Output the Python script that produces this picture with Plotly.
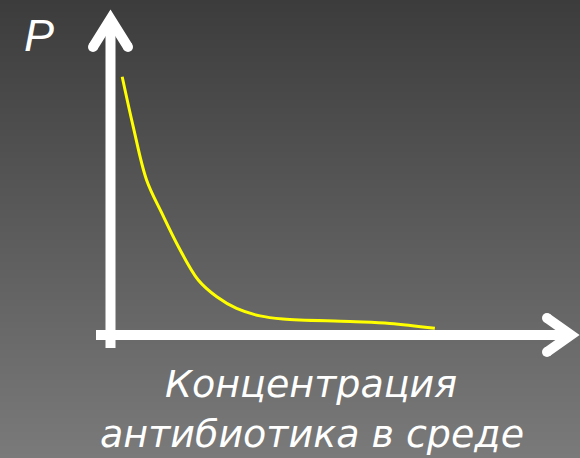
import plotly.graph_objects as go

# Dose-response sketch: probability P versus antibiotic concentration
concentration = [0.36, 0.70, 1.11, 1.58, 2.09, 2.70, 3.27, 3.88, 4.60, 5.31, 7.37, 8.60, 9.98]
probability = [10.01, 8.07, 6.01, 4.72, 3.42, 2.13, 1.48, 1.03, 0.74, 0.62, 0.52, 0.45, 0.26]

y_label = "P"
x_label_lines = ["Концентрация", "антибиотика в среде"]

W, H = 580, 458

# Data-to-pixel mapping of the plotting area (x=0 sits on the vertical axis,
# y=0 on the horizontal axis)
X0_PX, X_SCALE = 110.5, 32.5
Y0_PX, Y_SCALE = 335.0, 25.8
x_range = [(0 - X0_PX) / X_SCALE, (W - X0_PX) / X_SCALE]
y_range = [(Y0_PX - H) / Y_SCALE, Y0_PX / Y_SCALE]


def fx(px):
    return px / W


def fy(py):
    return 1 - py / H


shapes = []

# Vertical grey gradient backdrop
top_c, bot_c = 60, 122
band = 2
for i in range(0, H, band):
    t = (i + band / 2) / H
    c = round(top_c + (bot_c - top_c) * t)
    shapes.append(dict(type="rect", xref="paper", yref="paper",
                       x0=0, x1=1, y0=fy(i + band + 0.5), y1=fy(i),
                       fillcolor=f"rgb({c},{c},{c})", line_width=0, layer="below"))

AX_W = 10
white = "#ffffff"


def seg(pts):
    return "M " + " L ".join(f"{fx(x):.5f},{fy(y):.5f}" for x, y in pts)


def cap(x, y, r=AX_W / 2):
    return dict(type="circle", xref="paper", yref="paper",
                x0=fx(x - r), x1=fx(x + r), y0=fy(y + r), y1=fy(y - r),
                fillcolor=white, line_width=0, layer="below")


# Vertical axis with arrowhead
shapes.append(dict(type="path", xref="paper", yref="paper",
                   path=seg([(110.5, 348), (110.5, 20)]),
                   line=dict(color=white, width=AX_W), layer="below"))
shapes.append(dict(type="path", xref="paper", yref="paper",
                   path=seg([(93, 47), (110.5, 19), (128, 47)]),
                   line=dict(color=white, width=AX_W), layer="below"))
shapes += [cap(93, 47), cap(128, 47)]

# Horizontal axis with arrowhead
shapes.append(dict(type="path", xref="paper", yref="paper",
                   path=seg([(96, 335), (570, 335)]),
                   line=dict(color=white, width=AX_W), layer="below"))
shapes.append(dict(type="path", xref="paper", yref="paper",
                   path=seg([(547, 318), (571, 335), (547, 352)]),
                   line=dict(color=white, width=AX_W), layer="below"))
shapes += [cap(547, 318), cap(547, 352)]

fig = go.Figure()
fig.add_trace(go.Scatter(
    x=concentration, y=probability, mode="lines",
    line=dict(color="#ffff00", width=3, shape="spline", smoothing=1.0),
    hoverinfo="skip", showlegend=False,
))

label_font = "DejaVu Sans, sans-serif"
annotations = [
    dict(text=f"<i>{y_label}</i>", xref="paper", yref="paper",
         x=fx(39), y=fy(36), xanchor="center", yanchor="middle",
         showarrow=False,
         font=dict(family="Liberation Sans, Arial, sans-serif", size=45, color=white)),
    dict(text=f"<i>{x_label_lines[0]}</i>", xref="paper", yref="paper",
         x=fx(311), y=fy(384), xanchor="center", yanchor="middle",
         showarrow=False, font=dict(family=label_font, size=38, color=white)),
    dict(text=f"<i>{x_label_lines[1]}</i>", xref="paper", yref="paper",
         x=fx(312), y=fy(434), xanchor="center", yanchor="middle",
         showarrow=False, font=dict(family=label_font, size=38, color=white)),
]

fig.update_layout(
    width=W, height=H, margin=dict(l=0, r=0, t=0, b=0),
    paper_bgcolor="#5a5a5a", plot_bgcolor="rgba(0,0,0,0)",
    xaxis=dict(range=x_range, visible=False, fixedrange=True),
    yaxis=dict(range=y_range, visible=False, fixedrange=True),
    shapes=shapes, annotations=annotations,
)

fig.write_html("out.html")
